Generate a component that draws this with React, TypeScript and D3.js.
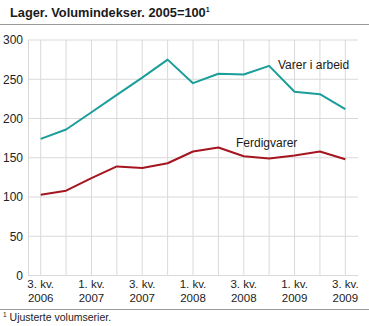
import React from "react";
import * as d3 from "d3";

const quarters = ["3. kv. 2006","4. kv. 2006","1. kv. 2007","2. kv. 2007","3. kv. 2007","4. kv. 2007","1. kv. 2008","2. kv. 2008","3. kv. 2008","4. kv. 2008","1. kv. 2009","2. kv. 2009","3. kv. 2009"];
const varerIArbeid = [174, 186, 208, 230, 252, 275, 245, 257, 256, 267, 234, 231, 212];
const ferdigvarer = [103, 108, 124, 139, 137, 143, 158, 163, 152, 149, 153, 158, 148];
const yTicks = [0, 50, 100, 150, 200, 250, 300];
const tickLabelIdx = [0, 2, 4, 6, 8, 10, 12];

const W = 369, H = 326;
const left = 28, right = 358, top = 40, bottom = 275.5;
const font = "Arial, 'Liberation Sans', sans-serif";

export default function App() {
  const x = d3.scaleBand<string>().domain(quarters).range([left, right]);
  const cx = (q: string) => (x(q) as number) + x.bandwidth() / 2;
  const y = d3.scaleLinear().domain([0, 300]).range([bottom, top]);
  const line = d3.line<number>().x((_, i) => cx(quarters[i])).y((d) => y(d));
  const grid = "#d9d9d9";
  return (
    <div style={{ position: "absolute", left: 0, top: 0 }}>
      <svg width={W} height={H} style={{ display: "block", fontFamily: font }}>
        <rect width={W} height={H} fill="#fff" />
        <text x={10} y={17} fontSize={12.8} fontWeight="bold" fill="#1a1a1a">
          Lager. Volumindekser. 2005=100<tspan fontSize={7} dy={-5}>1</tspan>
        </text>
        <line x1={0} x2={W} y1={24.5} y2={24.5} stroke="#9a9a9a" />
        {yTicks.map((t) => (
          <line key={"h" + t} x1={left} x2={right} y1={y(t)} y2={y(t)} stroke={grid} strokeWidth={1} />
        ))}
        <line x1={left + 0.5} x2={left + 0.5} y1={top} y2={bottom} stroke={grid} />
        {quarters.map((q) => (
          <line key={"v" + q} x1={cx(q)} x2={cx(q)} y1={top} y2={bottom} stroke={grid} />
        ))}
        {yTicks.map((t) => (
          <text key={"yt" + t} x={23} y={y(t)} dy="0.36em" textAnchor="end" fontSize={12} fill="#222">{t}</text>
        ))}
        {tickLabelIdx.map((i) => {
          const parts = quarters[i].split(" ");
          return (
            <g key={"xt" + i}>
              <text x={cx(quarters[i])} y={288.3} textAnchor="middle" fontSize={11.5} fill="#222">{parts[0] + " " + parts[1]}</text>
              <text x={cx(quarters[i])} y={301.5} textAnchor="middle" fontSize={11.5} fill="#222">{parts[2]}</text>
            </g>
          );
        })}
        <path d={line(varerIArbeid) || ""} fill="none" stroke="#1a9e9a" strokeWidth={2} strokeLinejoin="round" />
        <path d={line(ferdigvarer) || ""} fill="none" stroke="#a5151f" strokeWidth={2} strokeLinejoin="round" />
        <text x={278} y={69} fontSize={12} fill="#1a1a1a">Varer i arbeid</text>
        <text x={236} y={147} fontSize={12} fill="#1a1a1a">Ferdigvarer</text>
        <line x1={0} x2={W} y1={309.5} y2={309.5} stroke="#9a9a9a" />
        <text x={3} y={321} fontSize={10.5} fill="#222">
          <tspan fontSize={6.5} dy={-4}>1</tspan><tspan dy={4}> Ujusterte volumserier.</tspan>
        </text>
      </svg>
    </div>
  );
}
